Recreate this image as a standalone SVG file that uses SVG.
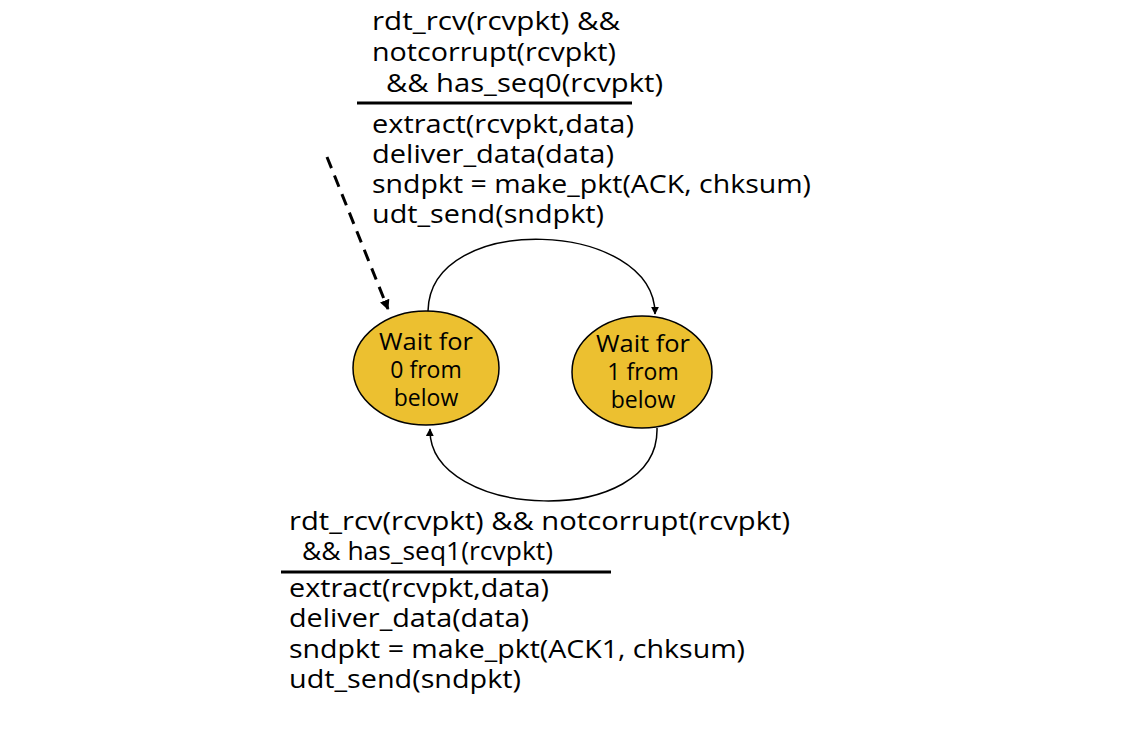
<svg xmlns="http://www.w3.org/2000/svg" width="1128" height="752" viewBox="0 0 1128 752">
<style>
.t{font-family:"Open Sans","Liberation Sans",sans-serif;font-size:26px;fill:#000}
.s{font-family:"Open Sans","Liberation Sans",sans-serif;font-size:23px;fill:#000;text-anchor:middle}
.st{fill:#ECC030;stroke:#000;stroke-width:1.5}
.c{fill:none;stroke:#000;stroke-width:1.5}
</style>
<defs>
<marker id="ah" viewBox="0 0 10 10" refX="9" refY="5" markerWidth="8" markerHeight="8" orient="auto" markerUnits="userSpaceOnUse"><path d="M0,0 L10,5 L0,10 z" fill="#000"/></marker>
<marker id="ahd" viewBox="0 0 10 10" refX="9" refY="5" markerWidth="10" markerHeight="10" orient="auto" markerUnits="userSpaceOnUse"><path d="M0,0 L10,5 L0,10 z" fill="#000"/></marker>
</defs>
<rect width="1128" height="752" fill="#fff"/>
<g id="connectors">
<path class="c" d="M428,311 C430,210 655,220 655,314" marker-end="url(#ah)"/>
<path class="c" d="M657,428 C660,530 428,520 430,429" marker-end="url(#ah)"/>
<path d="M327,157 L388,309" fill="none" stroke="#000" stroke-width="3" stroke-dasharray="12,8" marker-end="url(#ahd)"/>
</g>
<g id="state0">
<ellipse class="st" cx="426" cy="368" rx="73" ry="57"/>
<text class="s" x="426" y="350" textLength="94" lengthAdjust="spacingAndGlyphs">Wait for</text>
<text class="s" x="426" y="378">0 from</text>
<text class="s" x="426" y="406">below</text>
</g>
<g id="state1">
<ellipse class="st" cx="642" cy="372" rx="70" ry="56"/>
<text class="s" x="643" y="352" textLength="94" lengthAdjust="spacingAndGlyphs">Wait for</text>
<text class="s" x="643" y="380">1 from</text>
<text class="s" x="643" y="408">below</text>
</g>
<g id="label-top">
<text class="t" x="372" y="30" textLength="248" lengthAdjust="spacingAndGlyphs">rdt_rcv(rcvpkt) &amp;&amp;</text>
<text class="t" x="372" y="61" textLength="244" lengthAdjust="spacingAndGlyphs">notcorrupt(rcvpkt)</text>
<text class="t" x="386" y="92" textLength="277" lengthAdjust="spacingAndGlyphs">&amp;&amp; has_seq0(rcvpkt)</text>
<line x1="357" y1="103" x2="632" y2="103" stroke="#000" stroke-width="3"/>
<text class="t" x="372" y="133" textLength="262" lengthAdjust="spacingAndGlyphs">extract(rcvpkt,data)</text>
<text class="t" x="372" y="163" textLength="242" lengthAdjust="spacingAndGlyphs">deliver_data(data)</text>
<text class="t" x="372" y="193" textLength="439" lengthAdjust="spacingAndGlyphs">sndpkt = make_pkt(ACK, chksum)</text>
<text class="t" x="372" y="223" textLength="232" lengthAdjust="spacingAndGlyphs">udt_send(sndpkt)</text>
</g>
<g id="label-bottom">
<text class="t" x="289" y="530" textLength="501" lengthAdjust="spacingAndGlyphs">rdt_rcv(rcvpkt) &amp;&amp; notcorrupt(rcvpkt)</text>
<text class="t" x="302" y="560" textLength="251" lengthAdjust="spacingAndGlyphs">&amp;&amp; has_seq1(rcvpkt)</text>
<line x1="281" y1="572" x2="611" y2="572" stroke="#000" stroke-width="3"/>
<text class="t" x="289" y="597" textLength="260" lengthAdjust="spacingAndGlyphs">extract(rcvpkt,data)</text>
<text class="t" x="289" y="627" textLength="240" lengthAdjust="spacingAndGlyphs">deliver_data(data)</text>
<text class="t" x="289" y="658" textLength="456" lengthAdjust="spacingAndGlyphs">sndpkt = make_pkt(ACK1, chksum)</text>
<text class="t" x="289" y="688" textLength="232" lengthAdjust="spacingAndGlyphs">udt_send(sndpkt)</text>
</g>
</svg>
